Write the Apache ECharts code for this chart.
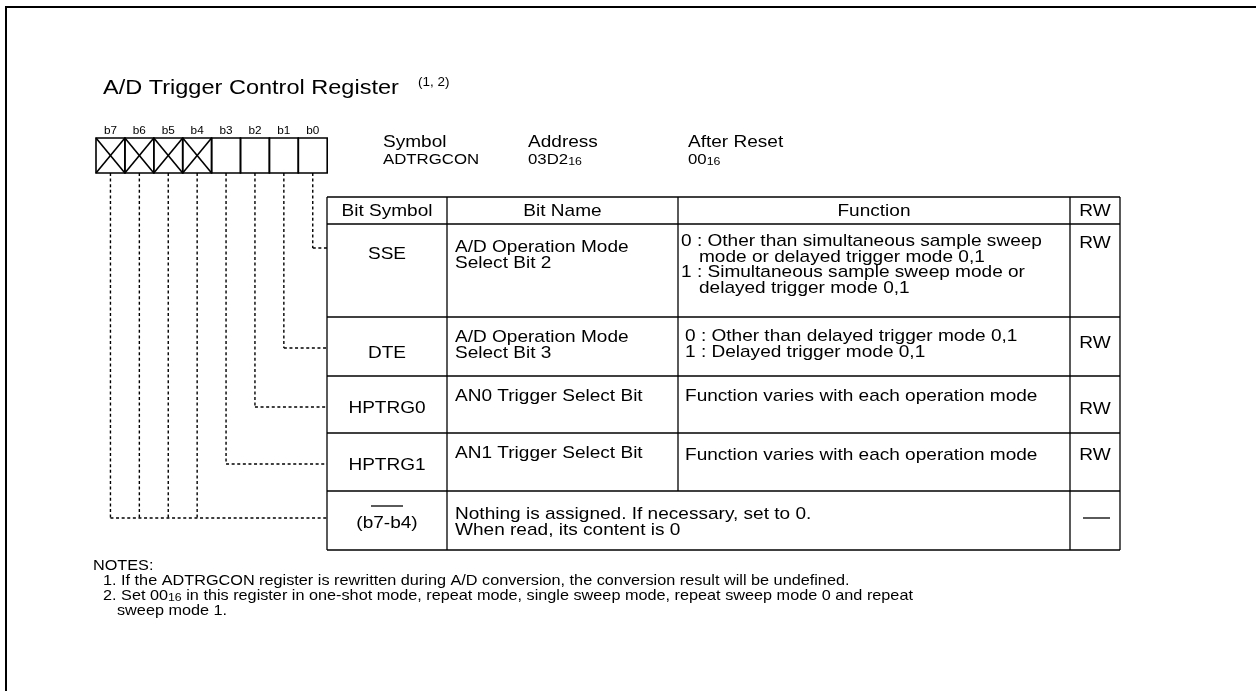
<!DOCTYPE html>
<html><head><meta charset="utf-8">
<script src="https://cdn.jsdelivr.net/npm/echarts@6/dist/echarts.min.js"></script>
<style>html,body{margin:0;padding:0;background:#fff}#c{width:1256px;height:691px}</style>
</head><body><div id="c"></div>
<script>
// ---------------- data ----------------
const titleText = 'A/D Trigger Control Register';
const titleNote = '(1, 2)';
const bitLabels = ['b7', 'b6', 'b5', 'b4', 'b3', 'b2', 'b1', 'b0'];
const bitReserved = [true, true, true, true, false, false, false, false];
const infoHeads = ['Symbol', 'Address', 'After Reset'];
const infoValues = ['ADTRGCON', '03D2', '00'];
const infoSubs = ['', '16', '16'];
const tableHeads = ['Bit Symbol', 'Bit Name', 'Function', 'RW'];
const rowSymbols = ['SSE', 'DTE', 'HPTRG0', 'HPTRG1', '(b7-b4)'];
const rowNames = [
  ['A/D Operation Mode', 'Select Bit 2'],
  ['A/D Operation Mode', 'Select Bit 3'],
  ['AN0 Trigger Select Bit'],
  ['AN1 Trigger Select Bit'],
  ['Nothing is assigned. If necessary, set to 0.', 'When read, its content is 0']
];
const rowFunctions = [
  ['0 : Other than simultaneous sample sweep', 'mode or delayed trigger mode 0,1', '1 : Simultaneous sample sweep mode or', 'delayed trigger mode 0,1'],
  ['0 : Other than delayed trigger mode 0,1', '1 : Delayed trigger mode 0,1'],
  ['Function varies with each operation mode'],
  ['Function varies with each operation mode'],
  []
];
const rowRW = ['RW', 'RW', 'RW', 'RW', '—'];
const rowBits = [['b0'], ['b1'], ['b2'], ['b3'], ['b7', 'b6', 'b5', 'b4']];
const notesHead = 'NOTES:';
const notes = [
  ['1. If the ADTRGCON register is rewritten during A/D conversion, the conversion result will be undefined.'],
  ['2. Set {s|00}{t|16}{s| in this register in one-shot mode, repeat mode, single sweep mode, repeat sweep mode 0 and repeat}', 'sweep mode 1.']
];

// ---------------- layout ----------------
const FONT = '"Liberation Sans", Arial, Helvetica, sans-serif';
const SX = 1.12;
const L = {
  frame: { x: 6, y: 7 },
  title: { x: 103, y: 88, size: 21 },
  note: { x: 418, y: 83, size: 12 },
  bits: { x0: 96, w: 28.9, top: 138, bottom: 173, labelY: 131, labelSize: 10.5 },
  info: { xs: [383, 528, 688], headY: 142, valY: 160, headSize: 17, valSize: 15, subSize: 11 },
  tx: [327, 447, 678, 1070, 1120],
  ty: [197, 224, 317, 376, 433, 491, 550],
  fontSize: 17,
  nameX: 455,
  indent: 18,
  rows: [
    { sy: 254, ny: [247, 263], fy: [241, 257, 272, 288], fx: 681, rwy: 243, leadY: 248 },
    { sy: 353, ny: [337, 353], fy: [336, 352], fx: 685, rwy: 343, leadY: 348 },
    { sy: 408, ny: [396], fy: [396], fx: 685, rwy: 409, leadY: 407 },
    { sy: 465, ny: [453], fy: [455], fx: 685, rwy: 455, leadY: 464 },
    { sy: 523, ny: [514, 530], fy: [], fx: 685, rwy: 518, leadY: 518, bar: 506 }
  ],
  notes: { headX: 93, headY: 566, x: 103, contX: 117, y0: 581, dy: 15, size: 14.5 }
};

function T(pt, text, size, align, extra) {
  return {
    type: 'text', x: pt[0], y: pt[1], scaleX: SX, scaleY: 1, originX: 0, originY: 0,
    style: Object.assign({
      text: text, fill: '#000', font: size + 'px ' + FONT,
      textAlign: align || 'left', align: align || 'left',
      textVerticalAlign: 'middle', verticalAlign: 'middle'
    }, extra || {})
  };
}
const LS = { stroke: '#000', lineWidth: 1.3, fill: null };
const DS = { stroke: '#000', lineWidth: 1.4, fill: null, lineDash: [3, 2.6] };

function seg(P, x1, y1, x2, y2, style) {
  const a = P(x1, y1), b = P(x2, y2);
  return { type: 'line', shape: { x1: a[0], y1: a[1], x2: b[0], y2: b[1] }, style: style };
}

// frame + title + info + notes
function renderStatic(params, api) {
  const P = (x, y) => api.coord([x, y]);
  const ch = [];
  ch.push({ type: 'polyline', shape: { points: [P(L.frame.x, 691), P(L.frame.x, L.frame.y), P(1256, L.frame.y)] }, style: { stroke: '#000', lineWidth: 2, fill: null } });
  ch.push(T(P(L.title.x, L.title.y), titleText, L.title.size, 'left'));
  ch.push(T(P(L.note.x, L.note.y), titleNote, L.note.size, 'left'));
  infoHeads.forEach((h, i) => {
    ch.push(T(P(L.info.xs[i], L.info.headY), h, L.info.headSize, 'left'));
    ch.push(T(P(L.info.xs[i], L.info.valY), '{v|' + infoValues[i] + '}' + (infoSubs[i] ? '{s|' + infoSubs[i] + '}' : ''), L.info.valSize, 'left', {
      rich: {
        v: { font: L.info.valSize + 'px ' + FONT, fill: '#000', verticalAlign: 'bottom' },
        s: { font: L.info.subSize + 'px ' + FONT, fill: '#000', verticalAlign: 'bottom' }
      }
    }));
  });
  const N = L.notes;
  ch.push(T(P(N.headX, N.headY), notesHead, N.size, 'left'));
  let k = 0;
  notes.forEach(lines => {
    lines.forEach((ln, j) => {
      const x = j === 0 ? N.x : N.contX;
      const isRich = ln.indexOf('{') >= 0;
      ch.push(T(P(x, N.y0 + k * N.dy), ln, N.size, 'left', isRich ? {
        rich: {
          s: { font: N.size + 'px ' + FONT, fill: '#000', verticalAlign: 'bottom' },
          t: { font: (N.size - 3.5) + 'px ' + FONT, fill: '#000', verticalAlign: 'bottom' }
        }
      } : null));
      k++;
    });
  });
  return { type: 'group', children: ch };
}

// register bit cells
function renderBit(params, api) {
  const i = params.dataIndex;
  const B = L.bits;
  const x0 = B.x0 + i * B.w, x1 = x0 + B.w;
  const P = (x, y) => api.coord([x, y]);
  const a = P(x0, B.top), b = P(x1, B.bottom);
  const st = { stroke: '#000', lineWidth: 1.6, fill: null };
  const ch = [{ type: 'rect', shape: { x: a[0], y: a[1], width: b[0] - a[0], height: b[1] - a[1] }, style: st }];
  if (bitReserved[i]) {
    ch.push(seg(P, x0, B.top, x1, B.bottom, st));
    ch.push(seg(P, x1, B.top, x0, B.bottom, st));
  }
  ch.push(T(P((x0 + x1) / 2, B.labelY), bitLabels[i], B.labelSize, 'center'));
  return { type: 'group', children: ch };
}

function bitX(name) {
  const i = bitLabels.indexOf(name);
  return L.bits.x0 + (i + 0.5) * L.bits.w;
}

// table grid + header
function renderGrid(params, api) {
  const P = (x, y) => api.coord([x, y]);
  const tx = L.tx, ty = L.ty;
  const ch = [];
  ty.forEach(y => ch.push(seg(P, tx[0], y, tx[4], y, LS)));
  [0, 1, 3, 4].forEach(c => ch.push(seg(P, tx[c], ty[0], tx[c], ty[6], LS)));
  ch.push(seg(P, tx[2], ty[0], tx[2], ty[5], LS));
  tableHeads.forEach((h, c) => ch.push(T(P((tx[c] + tx[c + 1]) / 2, (ty[0] + ty[1]) / 2 + 1), h, L.fontSize, 'center')));
  return { type: 'group', children: ch };
}

// table rows + leader lines
function renderRow(params, api) {
  const i = params.dataIndex;
  const R = L.rows[i];
  const P = (x, y) => api.coord([x, y]);
  const tx = L.tx;
  const ch = [];
  const fs = L.fontSize;
  const cx = (tx[0] + tx[1]) / 2;
  ch.push(T(P(cx, R.sy), rowSymbols[i], fs, 'center'));
  if (R.bar) ch.push(seg(P, cx - 16, R.bar, cx + 16, R.bar, LS));
  rowNames[i].forEach((n, j) => ch.push(T(P(L.nameX, R.ny[j]), n, fs, 'left')));
  const numbered = rowFunctions[i].some(f => /^\d :/.test(f));
  rowFunctions[i].forEach((f, j) => {
    const ind = numbered && !/^\d :/.test(f) ? L.indent : 0;
    ch.push(T(P(R.fx + ind, R.fy[j]), f, fs, 'left'));
  });
  if (rowRW[i] === '—') {
    ch.push(seg(P, 1083, R.rwy, 1110, R.rwy, LS));
  } else {
    ch.push(T(P((tx[3] + tx[4]) / 2, R.rwy), rowRW[i], fs, 'center'));
  }
  const xs = rowBits[i].map(bitX);
  xs.forEach(x => ch.push(seg(P, x, L.bits.bottom, x, R.leadY, DS)));
  ch.push(seg(P, Math.min.apply(null, xs), R.leadY, tx[0], R.leadY, DS));
  return { type: 'group', children: ch };
}

const chart = echarts.init(document.getElementById('c'), null, { renderer: 'canvas' });
chart.setOption({
  animation: false,
  backgroundColor: '#fff',
  grid: { left: 0, right: 0, top: 0, bottom: 0 },
  xAxis: { type: 'value', min: 0, max: 1256, show: false },
  yAxis: { type: 'value', min: 0, max: 691, inverse: true, show: false },
  series: [
    { type: 'custom', clip: false, renderItem: renderStatic, data: [[0, 0]] },
    { type: 'custom', clip: false, renderItem: renderBit, data: bitLabels.map((b, i) => [i, 0]) },
    { type: 'custom', clip: false, renderItem: renderGrid, data: [[0, 0]] },
    { type: 'custom', clip: false, renderItem: renderRow, data: rowSymbols.map((s, i) => [i, 0]) }
  ]
});
</script></body></html>
